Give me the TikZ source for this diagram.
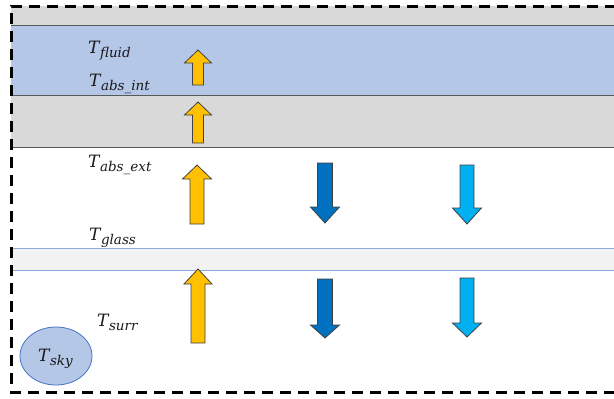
\documentclass[tikz,border=0pt]{standalone}
\usepackage{fontspec}
\usetikzlibrary{shapes.geometric}
\newfontfamily\labfont{DejaVu Serif}
\definecolor{bandgray}{HTML}{D9D9D9}
\definecolor{bandblue}{HTML}{B4C7E7}
\definecolor{glassfill}{HTML}{F2F2F2}
\definecolor{glassline}{HTML}{8FAADC}
\definecolor{lineg}{HTML}{595959}
\definecolor{yel}{HTML}{FFC000}
\definecolor{dblue}{HTML}{0070C0}
\definecolor{lblue}{HTML}{00B0F0}
\definecolor{skyline}{HTML}{4472C4}
\definecolor{txt}{HTML}{1A1A1A}
\newcommand{\myarrow}[7]{% x, tip y, head base y, tail y, head half width, shaft half width, color
  \filldraw[fill=#7,draw=black!75,line width=0.8pt,line join=miter]
    (#1-#6,#4) -- (#1-#6,#3) -- (#1-#5,#3) -- (#1,#2) -- (#1+#5,#3) -- (#1+#6,#3) -- (#1+#6,#4) -- cycle;}
\newcommand{\tlab}[1]{{\labfont\itshape\fontsize{17}{20}\selectfont T}\kern0.5pt\raisebox{-4pt}{\labfont\itshape\fontsize{13.5}{15}\selectfont #1}}
\tikzset{
  lbl/.style={anchor=base west,inner sep=0pt,text=txt},
  layer/.style={draw=lineg,line width=0.8pt},
}
\begin{document}
\begin{tikzpicture}[x=1pt,y=-1pt]
\useasboundingbox (0,0) rectangle (614,399);
\fill[white] (0,0) rectangle (614,399);
% layers
\fill[bandgray] (11,6) rectangle (614,25);
\fill[bandblue] (11,25) rectangle (614,95);
\fill[bandgray] (11,95) rectangle (614,147);
\draw[layer] (11,25) -- (614,25);
\draw[layer] (11,95) -- (614,95);
\draw[layer] (11,147) -- (614,147);
\fill[glassfill] (11,248) rectangle (614,270);
\draw[glassline,line width=0.9pt] (11,248) -- (614,248);
\draw[glassline,line width=0.9pt] (11,270) -- (614,270);
% dashed border
\draw[black,line width=3pt,dash pattern=on 11pt off 7pt] (616,6) -- (11,6) -- (11,392) -- (616,392);
% yellow arrows
\myarrow{198}{50}{63}{85}{13.5}{5.5}{yel}
\myarrow{198}{102}{115}{143}{13.5}{5.5}{yel}
\myarrow{197}{165}{179}{224}{14.5}{7}{yel}
\myarrow{198}{269}{284}{343}{14}{7}{yel}
% dark blue arrows
\myarrow{325}{223}{207}{163}{14.5}{7.5}{dblue}
\myarrow{325}{338}{325}{279}{14.5}{7.5}{dblue}
% light blue arrows
\myarrow{467}{224}{208}{165}{14.5}{7}{lblue}
\myarrow{467}{337}{323}{278}{14.5}{7}{lblue}
% labels
\node[lbl] (tfluid) at (88,53) {\tlab{fluid}};
\node[lbl] (tabsint) at (89,86) {\tlab{abs\_int}};
\node[lbl] (tabsext) at (88,167) {\tlab{abs\_ext}};
\node[lbl] (tglass) at (89,240) {\tlab{glass}};
\node[lbl] (tsurr) at (97,326) {\tlab{surr}};
\node[ellipse,draw=skyline,fill=bandblue,line width=0.8pt,minimum width=72pt,minimum height=58pt,inner sep=0pt] (sky) at (56,356) {};
\node[lbl] (tsky) at (38,361) {\tlab{sky}};
\end{tikzpicture}
\end{document}
